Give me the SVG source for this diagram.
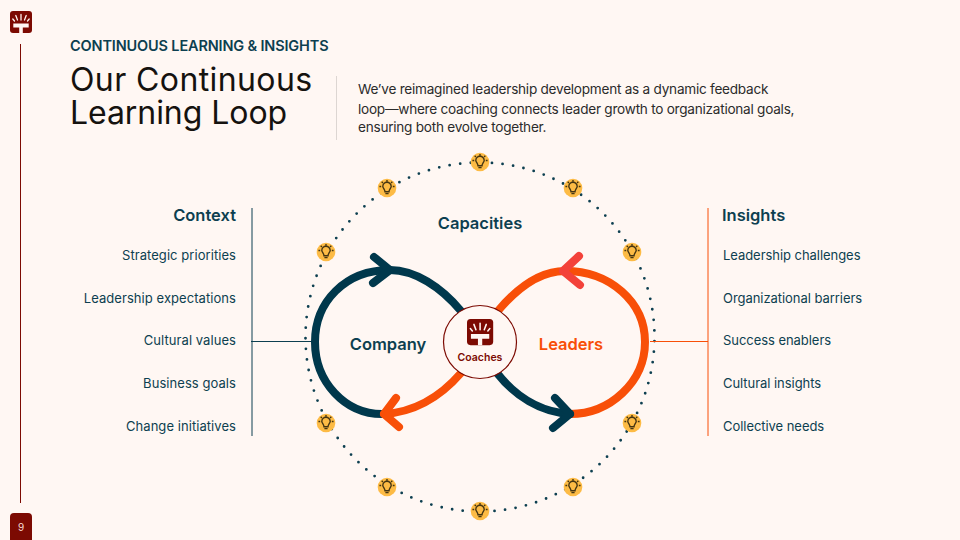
<svg xmlns="http://www.w3.org/2000/svg" width="960" height="540" viewBox="0 0 960 540">
<style>
text{font-family:"Inter","Noto Sans",sans-serif}
.navy{fill:#0d3f50}
.lbl{font-size:13px;fill:#0d3f50;letter-spacing:-.05px}
.lft{letter-spacing:.06px}
.r{text-anchor:end}
.h{font-size:16.500px;font-weight:600}
.body{font-size:13.600px;fill:#2b2b2b;letter-spacing:-.25px}
.ttl{font-size:32px;fill:#15120f;letter-spacing:.4px}
.n{fill:none;stroke:#00384c;stroke-width:8;stroke-linecap:round;stroke-linejoin:round}
.o{fill:none;stroke:#f84f08;stroke-width:8;stroke-linecap:round;stroke-linejoin:round}
.bulbc{fill:#fdbb45}
.bulbg{fill:none;stroke:#453512;stroke-width:1.400}
</style>
<defs>
<g id="bulb">
<circle r="9.300" class="bulbc"/>
<path class="bulbg" d="M-2 3.700C-2 1.700-4.200 0-4.200-1.500a4.200 4.200 0 0 1 8.400 0C4.200 0 2 1.700 2 3.700ZM-1.600 5.600H1.600M-7.600-1.500H-5.800M5.800-1.500H7.600M-5.300-6.300-4.100-5.100M5.300-6.300 4.100-5.100M0-8V-6.500"/>
</g>
<g id="logo">
<rect x="0" y="0" width="22" height="22" rx="3" fill="#7c0a02"/>
<path d="M3.300 12.500H18.700V16.500H12.800V22H9.200V16.500H3.300Z" fill="#fff6f2"/>
<path d="M11 3.500V9M5.800 4.500 7.500 9M16.200 4.500 14.500 9M2.800 8 4.500 10M19.200 8 17.500 10" stroke="#fff6f2" stroke-width="1.300" stroke-linecap="round" fill="none"/>
</g>
</defs>
<rect width="960" height="540" fill="#fff7f3"/>

<g id="sidebar">
<use href="#logo" x="10" y="11"/>
<line x1="20.500" y1="44" x2="20.500" y2="503" stroke="#7c0a02" stroke-width="1"/>
<path d="M10 540V517a4 4 0 0 1 4-4H28a4 4 0 0 1 4 4V540Z" fill="#7c0a02"/>
<text x="21" y="531" font-size="10" fill="#f8d9d2" text-anchor="middle">9</text>
</g>

<g id="header">
<text x="70" y="51" font-size="14.500" font-weight="600" class="navy" letter-spacing="-.15">CONTINUOUS LEARNING &amp; INSIGHTS</text>
<text class="ttl"><tspan x="70" y="91">Our Continuous</tspan><tspan x="70" y="124" letter-spacing="-.06">Learning Loop</tspan></text>
<line x1="336.500" y1="76" x2="336.500" y2="140" stroke="#ddd6d2" stroke-width="1"/>
<text class="body"><tspan x="358" y="94">We’ve reimagined leadership development as a dynamic feedback</tspan><tspan x="358" y="114">loop—where coaching connects leader growth to organizational goals,</tspan><tspan x="358" y="132">ensuring both evolve together.</tspan></text>
</g>

<g id="connectors">
<circle cx="480" cy="337" r="174.500" fill="none" stroke="#0d3f50" stroke-width="2.800" stroke-linecap="round" stroke-dasharray="0 10.640" stroke-dashoffset="-4.080"/>
<line x1="252" y1="208" x2="252" y2="436" stroke="#0d3f50" stroke-width="1"/>
<line x1="708" y1="208" x2="708" y2="436" stroke="#f84f08" stroke-width="1"/>
<line x1="251" y1="341.500" x2="312" y2="341.500" stroke="#0d3f50" stroke-width="1"/>
<line x1="650" y1="341.500" x2="708" y2="341.500" stroke="#f84f08" stroke-width="1"/>
<path class="n" d="M461 311C441 287 415 270 390 270C345 270 315 302 315 342C315 382 345 414 382 414"/>
<path class="n" d="M374 257 390 270 373 283"/>
<path class="o" d="M461 373C441 396 415 412 384 414"/>
<path class="o" d="M396 398 384 414 399 427"/>
<path class="o" d="M497 312C517 288 540 271 565 271C610 271 645 302 645 342C645 382 610 414 570 414"/>
<path d="M579 256 563 271 580 285" fill="none" stroke="#f3423a" stroke-width="8" stroke-linecap="round" stroke-linejoin="round"/>
<path class="n" d="M497 373C515 396 540 412 570 414"/>
<path class="n" d="M555 398 570 414 553 428"/>
</g>

<g id="bulbs">
<use href="#bulb" x="480" y="162"/>
<use href="#bulb" x="573" y="188"/>
<use href="#bulb" x="632" y="252"/>
<use href="#bulb" x="632" y="423"/>
<use href="#bulb" x="573" y="487"/>
<use href="#bulb" x="480" y="511"/>
<use href="#bulb" x="387" y="487"/>
<use href="#bulb" x="326" y="423"/>
<use href="#bulb" x="326" y="252"/>
<use href="#bulb" x="387" y="188"/>
</g>

<g id="capacities"><text x="480" y="229" text-anchor="middle" class="h navy">Capacities</text></g>
<g id="company"><text x="388" y="350" text-anchor="middle" class="h navy">Company</text></g>
<g id="leaders"><text x="571" y="350" text-anchor="middle" class="h" fill="#f84f08">Leaders</text></g>

<g id="coaches">
<circle cx="480" cy="342" r="36.500" fill="#fff7f3" stroke="#7c0a02" stroke-width="1.200"/>
<use href="#logo" transform="translate(467 319) scale(1.190)"/>
<text x="480" y="361" text-anchor="middle" font-size="10.500" font-weight="600" fill="#7c0a02">Coaches</text>
</g>

<g id="context">
<text x="236" y="221" class="h navy r">Context</text>
<text x="236" y="260" class="lbl lft r">Strategic priorities</text>
<text x="236" y="303" class="lbl lft r">Leadership expectations</text>
<text x="236" y="345" class="lbl lft r">Cultural values</text>
<text x="236" y="388" class="lbl lft r">Business goals</text>
<text x="236" y="431" class="lbl lft r">Change initiatives</text>
</g>

<g id="insights">
<text x="722" y="221" class="h navy">Insights</text>
<text x="723" y="260" class="lbl">Leadership challenges</text>
<text x="723" y="303" class="lbl">Organizational barriers</text>
<text x="723" y="345" class="lbl">Success enablers</text>
<text x="723" y="388" class="lbl">Cultural insights</text>
<text x="723" y="431" class="lbl">Collective needs</text>
</g>
</svg>
